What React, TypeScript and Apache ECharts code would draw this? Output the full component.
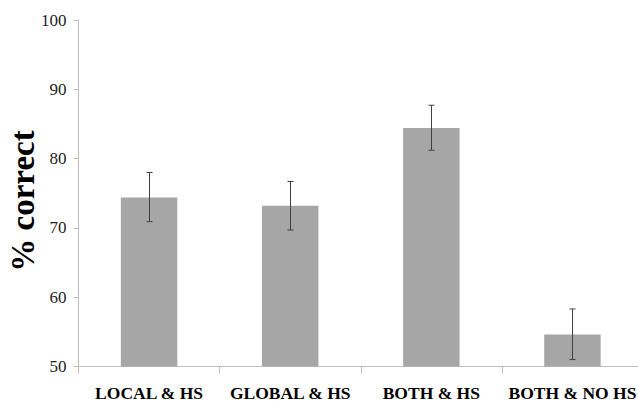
import React, { useEffect, useRef } from "react";
import * as echarts from "echarts";

const categories = ["LOCAL & HS", "GLOBAL & HS", "BOTH & HS", "BOTH & NO HS"];
const values = [74.4, 73.2, 84.4, 54.6];
const errLow = [70.9, 69.7, 81.2, 51.0];
const errHigh = [78.0, 76.7, 87.7, 58.3];
const yTicks = [50, 60, 70, 80, 90, 100];
const yTitle = "% correct";

const SERIF = "'Liberation Serif', 'Times New Roman', Times, serif";

export default function App() {
  const ref = useRef<HTMLDivElement>(null);
  useEffect(() => {
    if (!ref.current) return;
    const chart = echarts.init(ref.current, null, { renderer: "svg" });
    const errData = categories.map((_, i) => [i, errLow[i], errHigh[i]]);
    chart.setOption({
      animation: false,
      backgroundColor: "#ffffff",
      grid: { left: 78.5, top: 20, bottom: 35.5, right: -5, containLabel: false, outerBoundsMode: "none" },
      graphic: [
        {
          type: "text",
          x: 23,
          y: 201,
          rotation: Math.PI / 2,
          style: {
            text: yTitle,
            fontFamily: SERIF,
            fontWeight: "bold",
            fontSize: 33,
            fill: "#000",
            textAlign: "center",
            textVerticalAlign: "middle",
          },
        },
      ],
      xAxis: {
        type: "category",
        data: categories,
        axisLine: { lineStyle: { color: "#bdbdbd", width: 1 } },
        axisTick: { show: true, length: 7, lineStyle: { color: "#bdbdbd" } },
        axisLabel: {
          fontFamily: SERIF,
          fontWeight: "bold",
          fontSize: 17.5,
          color: "#000",
          margin: 17,
          interval: 0,
        },
      },
      yAxis: {
        type: "value",
        min: yTicks[0],
        max: yTicks[yTicks.length - 1],
        interval: 10,
        axisLine: { show: true, lineStyle: { color: "#bdbdbd", width: 1 } },
        axisTick: { show: true, length: 5, lineStyle: { color: "#bdbdbd" } },
        splitLine: { show: false },
        axisLabel: {
          fontFamily: SERIF,
          fontSize: 17,
          color: "#222",
          margin: 12,
        },
      },
      series: [
        {
          type: "bar",
          data: values,
          barWidth: "40%",
          itemStyle: { color: "#a6a6a6" },
        },
        {
          type: "custom",
          data: errData,
          z: 10,
          renderItem: (params: any, api: any) => {
            const x = api.value(0);
            const lo = api.coord([x, api.value(1)]);
            const hi = api.coord([x, api.value(2)]);
            const cx = Math.round(lo[0]) + 0.5;
            const half = 3;
            const style = { stroke: "#404040", lineWidth: 1 };
            return {
              type: "group",
              children: [
                { type: "line", shape: { x1: cx, y1: hi[1], x2: cx, y2: lo[1] }, style },
                { type: "line", shape: { x1: cx - half, y1: hi[1], x2: cx + half, y2: hi[1] }, style },
                { type: "line", shape: { x1: cx - half, y1: lo[1], x2: cx + half, y2: lo[1] }, style },
              ],
            };
          },
        },
      ],
    });
    return () => chart.dispose();
  }, []);
  return (
    <div
      ref={ref}
      style={{ position: "fixed", left: 0, top: 0, width: 638, height: 402, background: "#fff" }}
    />
  );
}
